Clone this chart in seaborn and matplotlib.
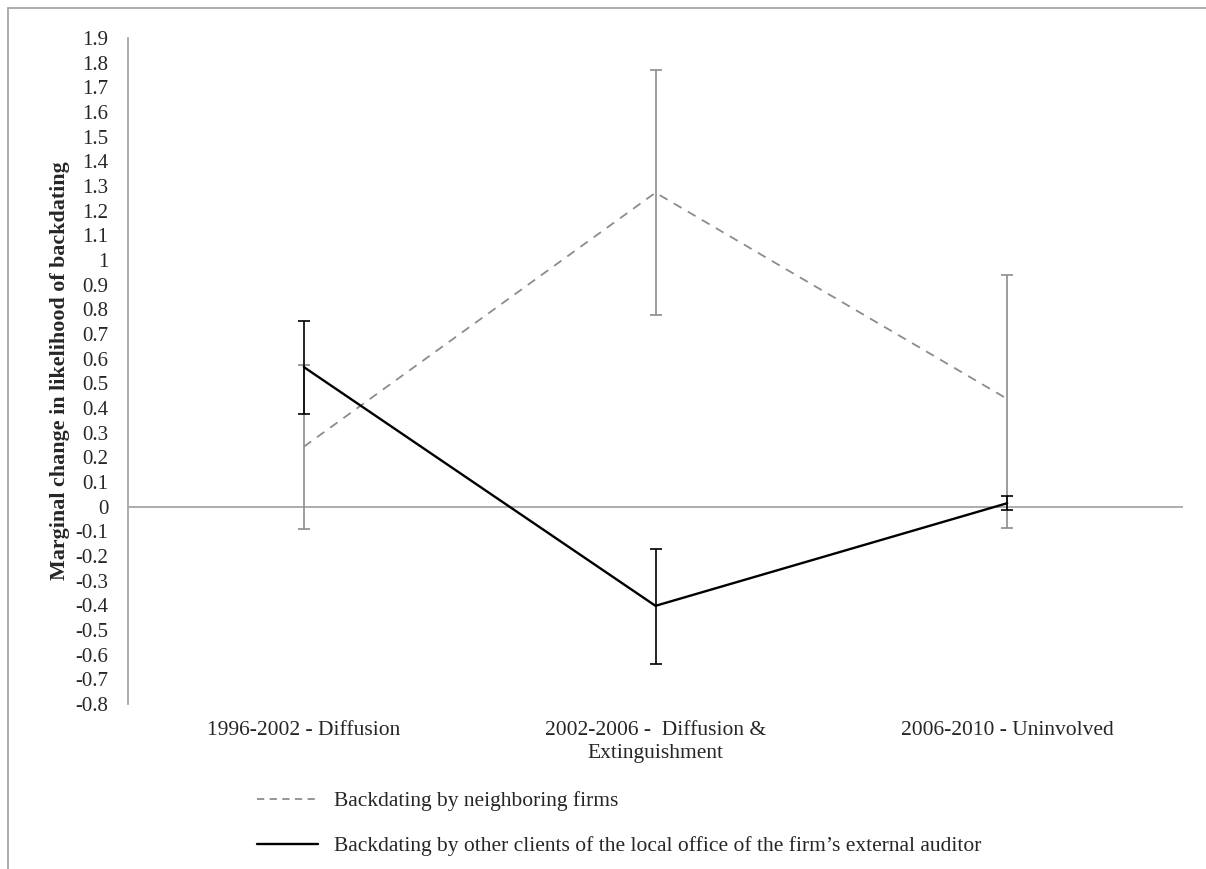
import matplotlib
matplotlib.use("Agg")
import matplotlib.pyplot as plt
import numpy as np
import pandas as pd
import seaborn as sns
from matplotlib.lines import Line2D
from matplotlib.patches import Rectangle

categories = ["1996-2002 - Diffusion", "2002-2006 -  Diffusion &\nExtinguishment", "2006-2010 - Uninvolved"]
series_names = ["Backdating by neighboring firms",
                "Backdating by other clients of the local office of the firm\u2019s external auditor"]

neighbor_vals = [0.243, 1.273, 0.437]
neighbor_lo = [-0.090, 0.777, -0.088]
neighbor_hi = [0.576, 1.770, 0.939]

auditor_vals = [0.566, -0.402, 0.014]
auditor_lo = [0.376, -0.636, -0.015]
auditor_hi = [0.754, -0.171, 0.043]

yticks = [round(v, 1) + 0.0 for v in np.arange(-0.8, 1.95, 0.1)]

sns.set_style("white")
plt.rcParams["font.family"] = ["Liberation Serif", "DejaVu Serif"]

W, H = 1206, 869
fig = plt.figure(figsize=(W / 100, H / 100), dpi=100)
ax = fig.add_axes([128 / W, 1 - 704 / H, (1183 - 128) / W, (704 - 38) / H])

gray = "#8c8c8c"
df = pd.DataFrame({
    "period": categories * 2,
    "value": neighbor_vals + auditor_vals,
    "series": [series_names[0]] * 3 + [series_names[1]] * 3,
})

# zero line
ax.axhline(0, color="#a6a6a6", lw=1.3, zorder=1)

# error bars
x = np.arange(len(categories))
ax.errorbar(x, neighbor_vals,
            yerr=[np.subtract(neighbor_vals, neighbor_lo), np.subtract(neighbor_hi, neighbor_vals)],
            fmt="none", ecolor=gray, elinewidth=1.2, capsize=4, capthick=1.2, zorder=2)
ax.errorbar(x, auditor_vals,
            yerr=[np.subtract(auditor_vals, auditor_lo), np.subtract(auditor_hi, auditor_vals)],
            fmt="none", ecolor="black", elinewidth=1.2, capsize=4, capthick=1.2, zorder=4)

sns.lineplot(data=df[df.series == series_names[0]], x=x, y="value", ax=ax,
             color=gray, lw=1.3, zorder=3)
ax.lines[-1].set_dashes([5, 4])
sns.lineplot(data=df[df.series == series_names[1]], x=x, y="value", ax=ax,
             color="black", lw=1.7, zorder=5)

ax.set_xlim(-0.5, 2.5)
ax.set_ylim(-0.8, 1.9)
ax.set_yticks(yticks)
ax.set_yticklabels(["0" if abs(v) < 1e-9 else f"{v:g}" for v in yticks], fontsize=15)
ax.set_xticks(x)
ax.set_xticklabels(categories, fontsize=15.5, linespacing=1.3)
ax.tick_params(axis="both", length=0)
ax.tick_params(axis="y", pad=14)
ax.tick_params(axis="x", pad=12)
ax.set_xlabel("")
ax.set_ylabel("")
for s in ["top", "right", "bottom"]:
    ax.spines[s].set_visible(False)
ax.spines["left"].set_color("#a6a6a6")
ax.spines["left"].set_linewidth(1.3)
if ax.get_legend():
    ax.get_legend().remove()

fig.text(60 / W, 1 - 371 / H, "Marginal change in likelihood of backdating",
         rotation=90, ha="center", va="center", fontsize=15.8, fontweight="bold")

handles = [Line2D([], [], color=gray, lw=1.3, dashes=[4, 3]),
           Line2D([], [], color="black", lw=1.7)]
fig.legend(handles, series_names, loc="upper left", bbox_to_anchor=(238 / W, 1 - 772 / H),
           frameon=False, fontsize=15.5, handlelength=2.8, handletextpad=0.74, labelspacing=1.15)

# outer frame
fig.add_artist(Rectangle((8 / W, -0.1), 1.2, 1 - 8 / H + 0.1, transform=fig.transFigure,
                         fill=False, edgecolor="#a6a6a6", lw=1.3))

fig.savefig("out.png", dpi=100, facecolor="white")
